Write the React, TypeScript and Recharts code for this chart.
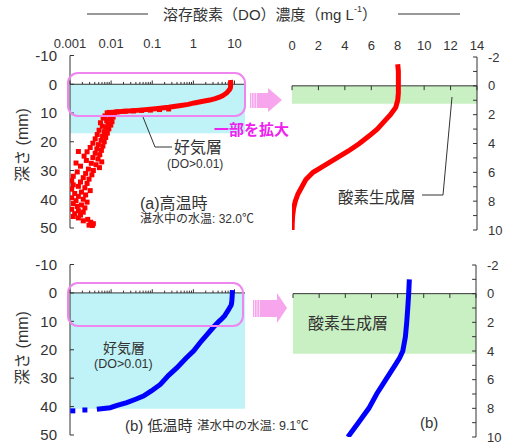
import React from "react";
import {
  ComposedChart,
  XAxis,
  YAxis,
  Scatter,
  ReferenceArea,
  ReferenceLine,
} from "recharts";

// (a) 高温時: surface curve, depth (mm) -> DO (mg/L)
const highCurveDepth = [-1.5, -1, -0.5, 0, 0.5, 1, 1.5, 2, 2.5, 3, 3.5, 4, 4.5, 5, 5.5, 6, 6.5, 7, 7.5, 8, 8.5, 9, 9.5, 10];
const highCurveDO = [8.0, 8.05, 8.05, 8.05, 8.05, 8.0, 7.85, 7.45, 6.95, 6.45, 5.8, 5.1, 4.3, 3.4, 2.5, 1.6, 1.05, 0.75, 0.45, 0.25, 0.12, 0.05, 0.018, 0.007];

// (a) 高温時: scattered points below the aerobic layer (log panel)
const highDeepDepth = [
  8.6, 8.8, 9.0, 9.1, 9.3, 9.4, 9.6, 9.8,
  10.2, 10.6, 11.0, 11.4, 11.8, 12.2, 12.6, 13.0, 13.4, 13.8, 14.2, 14.6, 15.0, 15.5,
  16.0, 16.5, 17.0, 17.5, 18.0, 18.5, 19.0, 19.5, 20.0, 20.5, 21.0, 21.5, 22.0, 22.5,
  23.0, 23.4, 23.5, 24.0, 24.5, 25.0, 25.5, 26.0, 26.5, 27.0, 27.4, 27.5, 28.0, 28.5,
  29.0, 29.5, 30.0, 30.5, 31.0, 31.5, 32.0, 32.5, 33.0, 33.5, 34.0, 34.5, 35.0, 35.5,
  36.0, 36.5, 37.0, 37.5, 38.0, 38.5, 39.0, 39.5, 40.0, 40.5, 41.0, 41.5, 42.0, 42.5,
  43.0, 43.5, 44.0, 44.5, 45.0, 45.5, 46.0, 46.5, 47.0, 47.5, 48.0, 48.5, 49.0, 49.3,
];
const highDeepDO = [
  0.25, 0.15, 0.09, 0.055, 0.035, 0.022, 0.014, 0.009,
  0.012, 0.0088, 0.0071, 0.0112, 0.0064, 0.0095, 0.0078, 0.0105, 0.0055, 0.0083, 0.0098, 0.0061, 0.0074, 0.0088,
  0.0051, 0.0069, 0.0081, 0.0046, 0.0062, 0.0074, 0.0041, 0.0057, 0.0068, 0.0036, 0.0049, 0.0063, 0.0031, 0.0045,
  0.0058, 0.0016, 0.0026, 0.0041, 0.0053, 0.0022, 0.0036, 0.0048, 0.0025, 0.0059, 0.0014, 0.0033, 0.0043, 0.0018,
  0.0052, 0.0028, 0.0037, 0.0015, 0.0024, 0.0034, 0.0012, 0.0021, 0.0029, 0.0011, 0.0018, 0.0026, 0.0012, 0.0016,
  0.0023, 0.0011, 0.0031, 0.0019, 0.0013, 0.0024, 0.0016, 0.0011, 0.0021, 0.0014, 0.0026, 0.0012, 0.0019, 0.0015,
  0.0023, 0.0011, 0.0016, 0.0021, 0.0013, 0.0018, 0.0012, 0.0016, 0.0027, 0.0021, 0.0032, 0.0037, 0.0029, 0.0035,
];

// (b) 低温時
const lowDepth = [-1, 0, 1, 2, 3, 4, 4.5, 5, 6, 7, 8, 9, 10, 12, 14.5, 17, 20.4, 23, 26.3, 29, 32.2, 34.5, 36.3, 37.5, 38.6, 39.6, 40.4, 40.9];
const lowDO = [8.9, 8.85, 8.78, 8.7, 8.6, 8.4, 8.15, 7.8, 7.1, 6.4, 5.8, 5.0, 4.2, 3.1, 2.2, 1.55, 1.02, 0.66, 0.4, 0.25, 0.157, 0.095, 0.061, 0.038, 0.024, 0.014, 0.0095, 0.0045];
const lowTailDepth = [41.2, 41.5];
const lowTailDO = [0.0023, 0.00117];

const logTicks = [0.001, 0.01, 0.1, 1, 10];
const linTicks = [0, 2, 4, 6, 8, 10, 12, 14];
const leftDepthTicks = [-10, 0, 10, 20, 30, 40, 50];
const rightDepthTicks = [-2, 0, 2, 4, 6, 8, 10];
const rightMinorTicks = [-2, -1, 0, 1, 2, 3, 4, 5, 6, 7, 8, 9, 10];

// layer bottoms (mm)
const aerobicHigh = 17;
const aerobicLow = 40.8;
const oxyHigh = 1.25;
const oxyLow = 4.2;

const LOG_MAX = 18;
const RED = "#ff0000";
const BLUE = "#0000ff";
const CYAN = "#bff3f7";
const GREEN = "#c9f0c3";
const PINK = "#ef86ef";
const ARROW = "#f7a6ee";
const AXIS = "#333";
const INK = "#333";
const FONT = '"Liberation Sans", Arial, "Noto Sans CJK JP", sans-serif';

const pts = (d: number[], v: number[]) => d.map((depth, i) => ({ depth, do: v[i] }));

const logMinor = logTicks
  .flatMap((b) => [1, 2, 3, 4, 5, 6, 7, 8, 9].map((m) => +(b * m).toPrecision(3)))
  .filter((v) => v <= LOG_MAX);

const NoDot = () => <g />;
const square = (color: string) => (p: any) =>
  <rect x={p.cx - 2.5} y={p.cy - 2.5} width={5} height={5} fill={color} />;

type LeftProps = {
  top: number;
  height: number;
  mt: number;
  mb: number;
  showX: boolean;
  curve: { depth: number; do: number }[];
  dots: { depth: number; do: number }[];
  color: string;
  band: number;
};

function LeftPanel({ top, height, mt, mb, showX, curve, dots, color, band }: LeftProps) {
  return (
    <div style={{ position: "absolute", left: 0, top }}>
      <ComposedChart width={260} height={height} margin={{ top: mt, right: 15, bottom: mb, left: 30 }}>
        <XAxis
          type="number"
          dataKey="do"
          scale="log"
          domain={[0.001, LOG_MAX]}
          allowDataOverflow
          orientation="top"
          ticks={logTicks}
          interval={0}
          hide={!showX}
          axisLine={false}
          tickLine={false}
          height={20}
          tick={{ fontSize: 13, fill: INK }}
        />
        <YAxis
          type="number"
          dataKey="depth"
          domain={[-10, 50]}
          reversed
          allowDataOverflow
          ticks={leftDepthTicks}
          interval={0}
          width={40}
          tickLine={false}
          tickMargin={7}
          axisLine={{ stroke: AXIS }}
          tick={{ fontSize: 15, fill: INK }}
        />
        <ReferenceArea x1={0.001} x2={LOG_MAX} y1={0} y2={band} fill={CYAN} fillOpacity={1} stroke="none" />
        <ReferenceLine y={0} stroke={AXIS} />
        {logMinor.map((v) => (
          <ReferenceLine
            key={"m" + v}
            segment={[{ x: v, y: 0 }, { x: v, y: logTicks.includes(v) ? -1.3 : -0.8 }]}
            stroke={AXIS}
          />
        ))}
        {leftDepthTicks.map((v) => (
          <ReferenceLine key={"t" + v} segment={[{ x: 0.001, y: v }, { x: 0.00125, y: v }]} stroke={AXIS} />
        ))}
        <Scatter
          data={curve}
          isAnimationActive={false}
          fill={color}
          shape={NoDot}
          line={{ stroke: color, strokeWidth: 5 }}
        />
        <Scatter data={dots} isAnimationActive={false} fill={color} shape={square(color)} />
      </ComposedChart>
    </div>
  );
}

type RightProps = {
  top: number;
  height: number;
  mt: number;
  mb: number;
  ml: number;
  mr: number;
  showX: boolean;
  curve: { depth: number; do: number }[];
  color: string;
  band: number;
};

function RightPanel({ top, height, mt, mb, ml, mr, showX, curve, color, band }: RightProps) {
  return (
    <div style={{ position: "absolute", left: 260, top }}>
      <ComposedChart width={245} height={height} margin={{ top: mt, right: mr, bottom: mb, left: ml }}>
        <XAxis
          type="number"
          dataKey="do"
          domain={[0, 14]}
          allowDataOverflow
          orientation="top"
          ticks={linTicks}
          interval={0}
          hide={!showX}
          axisLine={false}
          tickLine={false}
          height={20}
          tickMargin={1}
          tick={{ fontSize: 13, fill: INK }}
        />
        <YAxis
          type="number"
          dataKey="depth"
          orientation="right"
          domain={[-2, 10]}
          reversed
          allowDataOverflow
          ticks={rightDepthTicks}
          interval={0}
          width={28}
          tickLine={false}
          tickMargin={5}
          axisLine={{ stroke: AXIS }}
          tick={{ fontSize: 13, fill: INK }}
        />
        <ReferenceArea x1={0} x2={14} y1={0} y2={band} fill={GREEN} fillOpacity={1} stroke="none" />
        <ReferenceLine y={0} stroke={AXIS} />
        {linTicks.map((v) => (
          <ReferenceLine key={"m" + v} segment={[{ x: v, y: 0 }, { x: v, y: 0.3 }]} stroke={AXIS} />
        ))}
        {rightMinorTicks.map((v) => (
          <ReferenceLine key={"t" + v} segment={[{ x: 14, y: v }, { x: 13.7, y: v }]} stroke={AXIS} />
        ))}
        <Scatter
          data={curve}
          isAnimationActive={false}
          fill={color}
          shape={NoDot}
          line={{ stroke: color, strokeWidth: 5 }}
        />
      </ComposedChart>
    </div>
  );
}

const txt = { fill: INK, dominantBaseline: "central" as const };

export default function App() {
  const highCurve = pts(highCurveDepth, highCurveDO);
  const highDeep = pts(highDeepDepth, highDeepDO);
  const low = pts(lowDepth, lowDO);
  const lowTail = pts(lowTailDepth, lowTailDO);

  return (
    <div style={{ position: "absolute", left: 0, top: 0, width: 505, height: 444, fontFamily: FONT, background: "#fff" }}>
      <LeftPanel top={0} height={240} mt={35.5} mb={12} showX curve={highCurve} dots={highDeep} color={RED} band={aerobicHigh} />
      <RightPanel top={0} height={240} mt={37} mb={10} ml={32} mr={0} showX curve={highCurve.filter((p) => p.depth <= 10)} color={RED} band={oxyHigh} />
      <LeftPanel top={240} height={204} mt={24.5} mb={9} showX={false} curve={low} dots={lowTail} color={BLUE} band={aerobicLow} />
      <RightPanel top={240} height={204} mt={25} mb={7} ml={33} mr={1} showX={false} curve={low.filter((p) => p.depth <= 10)} color={BLUE} band={oxyLow} />

      <svg width={505} height={444} style={{ position: "absolute", left: 0, top: 0, pointerEvents: "none" }} fontFamily={FONT}>
        {/* title */}
        <line x1={87} y1={14} x2={148} y2={14} stroke={INK} strokeWidth={1} />
        <line x1={398} y1={14} x2={460} y2={14} stroke={INK} strokeWidth={1} />
        <text x={270} y={14} textAnchor="middle" fontSize={15} {...txt}>
          溶存酸素（DO）濃度（mg L<tspan fontSize={9} dy={-5}>-1</tspan><tspan dy={5}>）</tspan>
        </text>

        {/* depth labels */}
        <text transform="translate(22,145) rotate(-90)" textAnchor="middle" fontSize={16} {...txt}>深さ (mm)</text>
        <text transform="translate(22,348) rotate(-90)" textAnchor="middle" fontSize={16} {...txt}>深さ (mm)</text>

        {/* zoom boxes and arrows */}
        <rect x={68} y={73} width={177} height={43} rx={10} fill="none" stroke={PINK} strokeWidth={2} />
        <rect x={68} y={283} width={175} height={43} rx={10} fill="none" stroke={PINK} strokeWidth={2} />
        <polygon points="250,93 268,93 268,88 282,100 268,112 268,108 250,108" fill={ARROW} />
        <polygon points="253,300 277,300 277,293 287,308 277,323 277,317 253,317" fill={ARROW} />
        {[251.5, 254, 256.5].map((x) => (
          <line key={"a" + x} x1={x} y1={93} x2={x} y2={108} stroke="#fff" strokeWidth={0.8} opacity={0.8} />
        ))}
        {[254.5, 257, 259.5].map((x) => (
          <line key={"b" + x} x1={x} y1={300} x2={x} y2={317} stroke="#fff" strokeWidth={0.8} opacity={0.8} />
        ))}
        <text x={214} y={129} fontSize={15} fontWeight="bold" fill="#ee22ee" dominantBaseline="central">一部を拡大</text>

        {/* (a) annotations */}
        <path d="M143,117 L155,147 L172,147" fill="none" stroke={INK} strokeWidth={1} />
        <text x={174} y={147} fontSize={16} {...txt}>好気層</text>
        <text x={167} y={164} fontSize={12} {...txt}>(DO&gt;0.01)</text>
        <text x={140} y={203} fontSize={16} {...txt}>(a)高温時</text>
        <text x={140} y={219} fontSize={12} {...txt}>湛水中の水温: 32.0℃</text>
        <path d="M452,97 L443,195 L422,195" fill="none" stroke={INK} strokeWidth={1} />
        <text x={338} y={197} fontSize={15.5} {...txt}>酸素生成層</text>

        {/* (b) annotations */}
        <text x={103} y={348} fontSize={14} {...txt}>好気層</text>
        <text x={94} y={364} fontSize={12.5} {...txt}>(DO&gt;0.01)</text>
        <text x={125} y={425} fontSize={15} {...txt}>(b) 低温時</text>
        <text x={197} y={426} fontSize={12.5} {...txt}>湛水中の水温: 9.1℃</text>
        <text x={308} y={323} fontSize={16} {...txt}>酸素生成層</text>
        <text x={420} y={422} fontSize={15} {...txt}>(b)</text>
      </svg>
    </div>
  );
}
